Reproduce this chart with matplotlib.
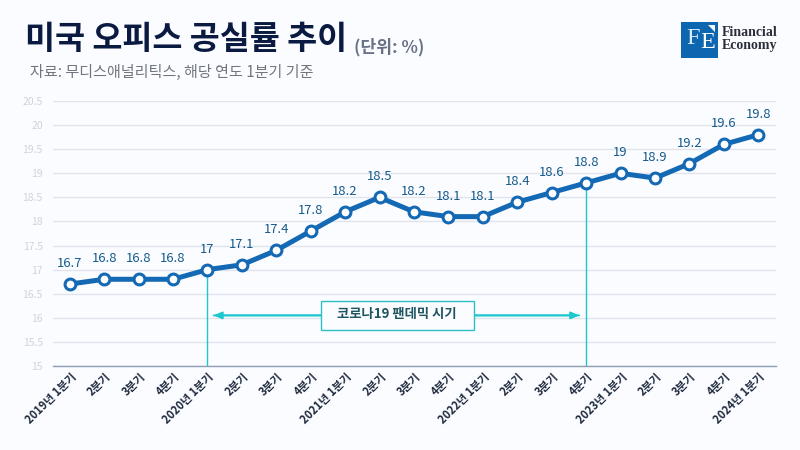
#!/usr/bin/env python3
"""US office vacancy rate line chart."""

import matplotlib
matplotlib.use("Agg")
import matplotlib.pyplot as plt
from matplotlib.patches import Rectangle, Polygon

plt.rcParams["font.family"] = ["Noto Sans CJK KR", "DejaVu Sans"]

W, H = 800, 450
BG = "#FBFCFF"
NAVY = "#0B1A40"
BLUE = "#1469B4"
TEAL = "#1CC8CE"

quarters = [
    "2019년 1분기", "2분기", "3분기", "4분기",
    "2020년 1분기", "2분기", "3분기", "4분기",
    "2021년 1분기", "2분기", "3분기", "4분기",
    "2022년 1분기", "2분기", "3분기", "4분기",
    "2023년 1분기", "2분기", "3분기", "4분기",
    "2024년 1분기",
]
vacancy = [16.7, 16.8, 16.8, 16.8, 17, 17.1, 17.4, 17.8, 18.2, 18.5, 18.2,
           18.1, 18.1, 18.4, 18.6, 18.8, 19, 18.9, 19.2, 19.6, 19.8]
y_ticks = [15, 15.5, 16, 16.5, 17, 17.5, 18, 18.5, 19, 19.5, 20, 20.5]
pandemic_start = 4
pandemic_end = 15
pandemic_y = 16.05

fig = plt.figure(figsize=(W / 100, H / 100), dpi=100, facecolor=BG)

# axes placed in pixels: x 52.5..775.5, y 101..366 from the top
ax = fig.add_axes([52.5 / W, 1 - 366 / H, 723 / W, 265 / H], facecolor=BG)
x = list(range(len(quarters)))
ax.set_xlim(-0.5, len(quarters) - 0.5)
ax.set_ylim(15, 20.5)

ax.set_yticks(y_ticks)
ax.set_yticklabels([f"{v:g}" for v in y_ticks], fontsize=7.5, color="#D0D3DA")
ax.set_xticks(x)
ax.set_xticklabels(quarters, rotation=45, ha="right", va="top",
                   rotation_mode="anchor", fontsize=8, fontweight="bold",
                   color="#1E2A3E")
ax.tick_params(axis="both", length=0)
ax.tick_params(axis="x", pad=3)
ax.tick_params(axis="y", pad=7)
ax.grid(axis="y", color="#DFE4EE", linewidth=1)
ax.set_axisbelow(True)
for name in ["top", "right", "left"]:
    ax.spines[name].set_visible(False)
ax.spines["bottom"].set_color("#8C9DB5")
ax.spines["bottom"].set_linewidth(1)

# pandemic markers
for q in [pandemic_start, pandemic_end]:
    ax.plot([q, q], [15, vacancy[q]], color=TEAL, linewidth=1, zorder=2)

ax.annotate("", xy=(pandemic_start + 0.18, pandemic_y),
            xytext=(pandemic_end - 0.2, pandemic_y),
            arrowprops=dict(arrowstyle="-|>,head_length=0.5,head_width=0.22", color=TEAL,
                            lw=1.3, mutation_scale=10, shrinkA=0, shrinkB=0), zorder=3)
ax.annotate("", xy=(pandemic_end - 0.2, pandemic_y),
            xytext=(pandemic_start + 0.18, pandemic_y),
            arrowprops=dict(arrowstyle="-|>,head_length=0.5,head_width=0.22", color=TEAL,
                            lw=1.3, mutation_scale=10, shrinkA=0, shrinkB=0), zorder=3)
ax.add_patch(Rectangle((321 / W, 1 - 330 / H), 153 / W, 29 / H, transform=fig.transFigure,
                       facecolor=BG, edgecolor="#2BBFC4", linewidth=1, zorder=4))
fig.text(396.5 / W, 1 - 314 / H, "코로나19 팬데믹 시기", ha="center", va="center",
         fontsize=9.6, fontweight="bold", color="#1F5560", zorder=5)

ax.plot(x, vacancy, color=BLUE, linewidth=3.6, marker="o", markersize=7.8,
        markerfacecolor="white", markeredgecolor=BLUE, markeredgewidth=2.2,
        solid_capstyle="round", zorder=5, clip_on=False)
for xi, val in zip(x, vacancy):
    ax.annotate(f"{val:g}", (xi, val), xytext=(0, 10), textcoords="offset points",
                ha="center", va="bottom", fontsize=9.4, color="#155A8A", zorder=6)

# titles
fig.text(25 / W, 1 - 39 / H, "미국 오피스 공실률 추이", fontsize=23.5, fontweight="bold",
         color=NAVY, va="center", ha="left")
fig.text(354 / W, 1 - 47 / H, "(단위: %)", fontsize=12.3, fontweight="bold",
         color="#6A7285", va="center", ha="left")
fig.text(30 / W, 1 - 72 / H, "자료: 무디스애널리틱스, 해당 연도 1분기 기준", fontsize=10.85,
         color="#70757F", va="center", ha="left")

# logo
fig.add_artist(Rectangle((681 / W, 1 - 58 / H), 37 / W, 36 / H, facecolor="#0F66B0",
                         edgecolor="none", transform=fig.transFigure))
fig.add_artist(Polygon([(708 / W, 1 - 25 / H), (715 / W, 1 - 25 / H), (715 / W, 1 - 32 / H)],
                       facecolor="white", edgecolor="none", transform=fig.transFigure))
fig.text(686 / W, 1 - 39 / H, "F", fontsize=17.5, family="Liberation Serif",
         color="#DCEBFA", va="center", ha="left")
fig.text(700 / W, 1 - 42 / H, "E", fontsize=17.5, family="Liberation Serif",
         color="white", va="center", ha="left")
fig.text(722 / W, 1 - 33 / H, "Financial", fontsize=10, family="Liberation Serif",
         fontweight="bold", color="#2A2F3A", va="center", ha="left")
fig.text(722 / W, 1 - 46 / H, "Economy", fontsize=10, family="Liberation Serif",
         fontweight="bold", color="#2A2F3A", va="center", ha="left")

fig.savefig("out.png", dpi=100, facecolor=BG)
plt.close(fig)
